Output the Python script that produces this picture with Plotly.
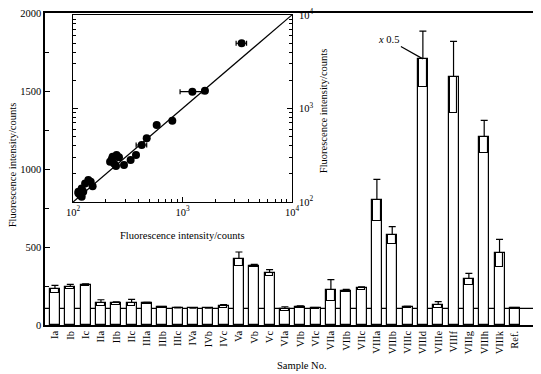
import plotly.graph_objects as go

# ---------------- data ----------------
categories = ["Ia", "Ib", "Ic", "IIa", "IIb", "IIc", "IIIa", "IIIb", "IIIc",
              "IVa", "IVb", "IVc", "Va", "Vb", "Vc", "VIa", "VIb", "VIc",
              "VIIa", "VIIb", "VIIc", "VIIIa", "VIIIb", "VIIIc", "VIIId",
              "VIIIe", "VIIIf", "VIIIg", "VIIIh", "VIIIk", "Ref."]
means = [229, 244, 256, 142, 140, 142, 140, 115, 110, 108, 108, 119, 423, 381,
         333, 104, 115, 108, 223, 219, 235, 800, 575, 115, 1706, 131, 1587,
         294, 1206, 462, 106]
sds = [25, 16, 8, 20, 9, 22, 5, 3, 3, 2, 2, 12, 45, 8, 22, 13, 8, 3, 68, 9,
       10, 134, 56, 4, 178, 19, 231, 37, 106, 87, 2]

inset_x = [3467, 1230, 1603, 807, 581, 471, 424, 376, 336, 292, 230, 250, 263,
           218, 237, 247, 226, 116, 120, 129, 138, 145, 151, 112, 124, 112, 120]
inset_y = [4977, 1513, 1549, 741, 666, 480, 407, 318, 281, 249, 305, 318, 301,
           270, 259, 243, 286, 119, 140, 158, 172, 165, 148, 129, 129, 124, 114]
inset_xerr = [380, 280, 0, 0, 0, 0, 47, 0, 0, 0, 0, 0, 0, 0, 0, 0, 0, 0, 0, 0,
              0, 0, 0, 0, 0, 0, 0]
inset_range = [100, 10000]

y_ticks = [0, 500, 1000, 1500, 2000]
inset_ticks = [100, 1000, 10000]
inset_ticktext = ["10<sup>2</sup>", "10<sup>3</sup>", "10<sup>4</sup>"]
inset_minor = [m * d for d in (100, 1000) for m in range(2, 10)]

ref_level = means[categories.index("Ref.")]

FONT = "Liberation Serif"
FS = 10.5
title_text = "Fluorescence intensity/counts"

fig = go.Figure()

# main bars (height = mean), whisker upward = +sd
fig.add_trace(go.Bar(
    x=categories, y=means, width=0.65,
    marker=dict(color="white", line=dict(color="black", width=1.2)),
    error_y=dict(type="data", symmetric=False, array=sds,
                 arrayminus=[0] * len(sds), color="black",
                 thickness=1.2, width=3.5),
    showlegend=False, hoverinfo="x+y"))

# downward sd drawn as a box inside the bar
fig.add_trace(go.Bar(
    x=categories, y=sds, base=[m - s for m, s in zip(means, sds)], width=0.5,
    marker=dict(color="white", line=dict(color="black", width=1.1)),
    showlegend=False, hoverinfo="skip"))

# inset: identity line and points
fig.add_trace(go.Scatter(
    x=inset_range, y=inset_range, mode="lines",
    line=dict(color="black", width=1.2),
    xaxis="x2", yaxis="y2", showlegend=False, hoverinfo="skip"))
fig.add_trace(go.Scatter(
    x=inset_x, y=inset_y, mode="markers",
    marker=dict(color="black", size=8),
    error_x=dict(type="data", array=inset_xerr, color="black",
                 thickness=1.2, width=2.5),
    xaxis="x2", yaxis="y2", showlegend=False))

fig.add_shape(type="line", xref="paper", yref="y", x0=0, x1=1,
              y0=ref_level, y1=ref_level, layer="below",
              line=dict(color="black", width=1.2))

fig.add_annotation(x="VIIId", y=means[categories.index("VIIId")],
                   xref="x", yref="y", text="<i>x</i> 0.5",
                   showarrow=True, arrowhead=0, arrowwidth=1.2,
                   arrowcolor="black", ax=-34, ay=-19,
                   font=dict(family=FONT, size=FS, color="black"))

# axis titles as annotations (paper coordinates)
title_font = dict(family=FONT, size=FS, color="black")
fig.add_annotation(text=title_text, xref="paper", yref="paper",
                   x=-0.0640, y=0.513, textangle=-90, showarrow=False,
                   xanchor="center", yanchor="middle", font=title_font)
fig.add_annotation(text="Sample No.", xref="paper", yref="paper",
                   x=0.519, y=-0.131, showarrow=False,
                   xanchor="center", yanchor="middle", font=title_font)
fig.add_annotation(text=title_text, xref="paper", yref="paper",
                   x=0.277, y=0.288, showarrow=False,
                   xanchor="center", yanchor="middle", font=title_font)
fig.add_annotation(text=title_text, xref="paper", yref="paper",
                   x=0.564, y=0.686, textangle=-90, showarrow=False,
                   xanchor="center", yanchor="middle", font=title_font)

axis_common = dict(showline=True, linecolor="black", showgrid=False,
                   zeroline=False, color="black", automargin=False,
                   ticklabeloverflow="allow",
                   tickfont=dict(family=FONT, size=FS, color="black"))

fig.update_layout(
    width=541, height=374,
    margin=dict(l=37, r=9, t=5, b=57),
    paper_bgcolor="white", plot_bgcolor="white",
    barmode="overlay", bargap=0,
    font=dict(family=FONT, size=FS, color="black"),
    xaxis=dict(**axis_common, type="category", range=[-0.65, 31.64],
               linewidth=1.5, mirror=True, ticks="", tickangle=-90),
    yaxis=dict(**axis_common, range=[0, 2000], tickvals=y_ticks,
               linewidth=1.5, mirror=True, ticks="inside", ticklen=5,
               minor=dict(dtick=250, ticks="inside", ticklen=4,
                          showgrid=False)),
    xaxis2=dict(**axis_common, type="log", range=[2, 4],
                domain=[0.0566, 0.499], anchor="y2", linewidth=1,
                mirror=True, tickvals=inset_ticks, ticktext=inset_ticktext,
                ticks="inside", ticklen=5,
                minor=dict(tickvals=inset_minor, ticks="inside", ticklen=3,
                           showgrid=False)),
    yaxis2=dict(**axis_common, type="log", range=[2, 4],
                domain=[0.394, 0.994], anchor="x2", side="right",
                linewidth=1, mirror="ticks", tickvals=inset_ticks,
                ticktext=inset_ticktext, ticks="inside", ticklen=5,
                ticklabelstandoff=4,
                minor=dict(tickvals=inset_minor, ticks="inside", ticklen=3,
                           showgrid=False)),
)

fig.write_html("out.html")
